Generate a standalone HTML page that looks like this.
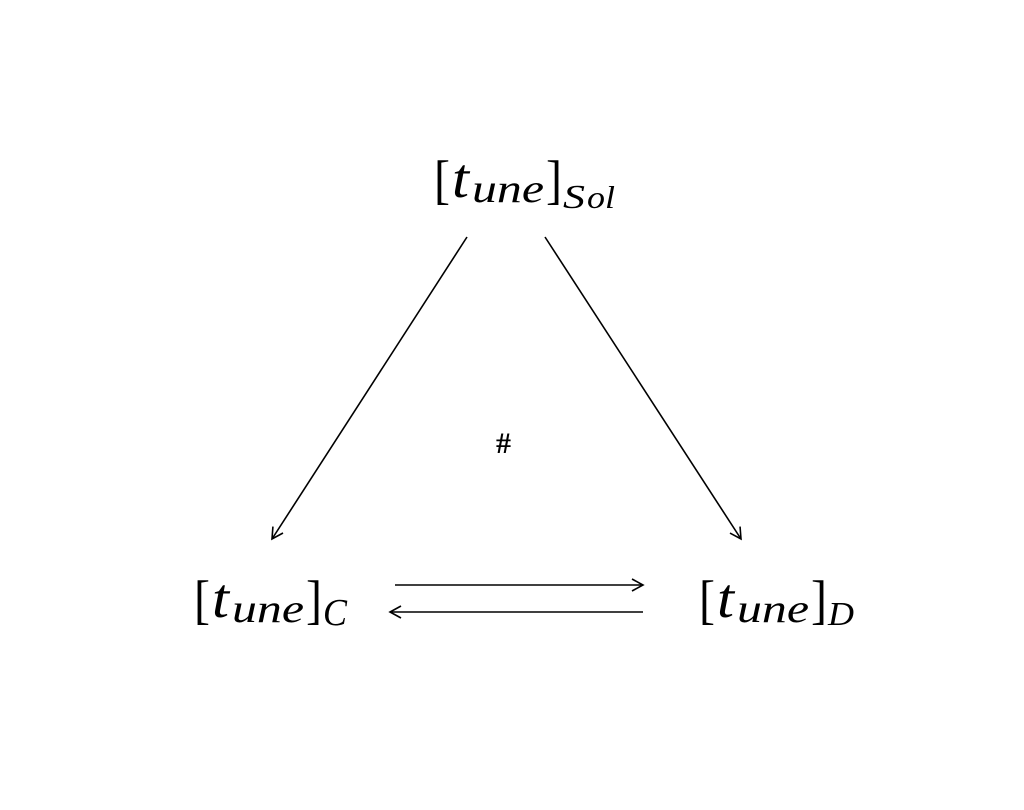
<!DOCTYPE html>
<html><head><meta charset="utf-8"><style>
html,body{margin:0;padding:0;background:#fff;}
svg{display:block;}
text{font-family:"Liberation Serif",serif;fill:#000;}
.i{font-style:italic;}
</style></head><body>
<svg width="1024" height="810" viewBox="0 0 1024 810" xmlns="http://www.w3.org/2000/svg">
<defs>
<marker id="a" markerWidth="14" markerHeight="14" refX="12" refY="7" orient="auto" markerUnits="userSpaceOnUse">
<path d="M1,1 L12,7 L1,13" fill="none" stroke="#000" stroke-width="1.6"/>
</marker>
</defs>
<g stroke="#000" stroke-width="1.6" fill="none">
<line x1="467" y1="237" x2="272" y2="539" marker-end="url(#a)"/>
<line x1="545" y1="237" x2="741" y2="539" marker-end="url(#a)"/>
<line x1="395" y1="585" x2="643" y2="585" marker-end="url(#a)"/>
<line x1="643" y1="612" x2="390" y2="612" marker-end="url(#a)"/>
</g>
<g>
<text x="434" y="198" font-size="54" textLength="16" lengthAdjust="spacingAndGlyphs">[</text>
<text x="452" y="197" font-size="56" class="i" textLength="17" lengthAdjust="spacingAndGlyphs">t</text>
<text x="472" y="202" font-size="40" class="i" textLength="72" lengthAdjust="spacingAndGlyphs">une</text>
<text x="546" y="198" font-size="54" textLength="16" lengthAdjust="spacingAndGlyphs">]</text>
<text x="563" y="208" font-size="34" class="i" textLength="22" lengthAdjust="spacingAndGlyphs">S</text>
<text x="587" y="208" font-size="32" class="i" textLength="28" lengthAdjust="spacingAndGlyphs">ol</text>
</g>
<g transform="translate(-240,420)">
<text x="434" y="198" font-size="54" textLength="16" lengthAdjust="spacingAndGlyphs">[</text>
<text x="452" y="197" font-size="56" class="i" textLength="17" lengthAdjust="spacingAndGlyphs">t</text>
<text x="472" y="202" font-size="40" class="i" textLength="72" lengthAdjust="spacingAndGlyphs">une</text>
<text x="546" y="198" font-size="54" textLength="16" lengthAdjust="spacingAndGlyphs">]</text>
<text x="563" y="205" font-size="38" class="i" textLength="24" lengthAdjust="spacingAndGlyphs">C</text>
</g>
<g transform="translate(265,420)">
<text x="434" y="198" font-size="54" textLength="16" lengthAdjust="spacingAndGlyphs">[</text>
<text x="452" y="197" font-size="56" class="i" textLength="17" lengthAdjust="spacingAndGlyphs">t</text>
<text x="472" y="202" font-size="40" class="i" textLength="72" lengthAdjust="spacingAndGlyphs">une</text>
<text x="546" y="198" font-size="54" textLength="16" lengthAdjust="spacingAndGlyphs">]</text>
<text x="563" y="205" font-size="34" class="i" textLength="26" lengthAdjust="spacingAndGlyphs">D</text>
</g>
<text x="496" y="453" font-size="30" font-family="Liberation Sans,sans-serif" font-weight="bold">#</text>
</svg>
</body></html>
